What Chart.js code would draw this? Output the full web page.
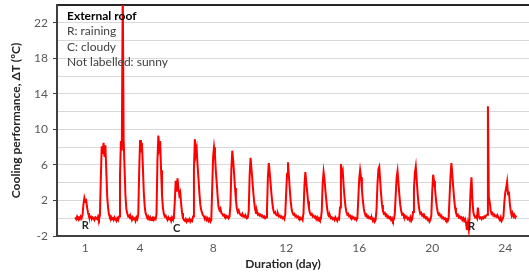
<!DOCTYPE html>
<html>
<head>
<meta charset="utf-8">
<script src="https://cdn.jsdelivr.net/npm/chart.js@4/dist/chart.umd.min.js"></script>
<style>
html, body { margin: 0; padding: 0; background: #fff; }
#wrap { width: 529px; height: 275px; }
</style>
</head>
<body>
<div id="wrap"><canvas id="grafic" width="529" height="275"></canvas></div>
<script>
// one row per day, readings every 0.05 day (row k starts at day k)
const coolingRows = [
	[null, null, null, null, null, null, null, null, null, 0.1, -0.1, 0.2, 0.0, 0.1, -0.1, 0.2, 0.0, 0.4, 1.6, 2.3],
	[1.9, 2.0, 1.2, 0.6, 0.2, 0.1, 0.2, -0.1, 0.1, 0.0, -0.2, 0.1, 0.0, -0.1, 0.2, -0.1, 0.3, 4.5, 8.1, 7.2],
	[8.5, 6.9, 8.2, 5.3, 2.4, 1.1, 0.4, 0.1, 0.2, -0.1, 0.0, -0.2, 0.1, -0.1, -0.3, 0.0, -0.2, 0.2, 4.8, 8.7],
	[7.6, 26, 8.9, 5.6, 2.5, 1.0, 0.5, 0.2, 0.3, 0.0, 0.1, -0.2, 0.1, -0.1, 0.0, -0.3, 0.1, -0.1, 0.4, 5.2],
	[8.8, 7.4, 8.5, 6.0, 3.1, 1.4, 0.6, 0.3, 0.0, 0.2, -0.1, 0.1, -0.2, 0.0, 0.1, -0.2, 0.0, -0.1, 0.5, 6.4],
	[9.3, 8.0, 8.7, 5.4, 2.6, 1.2, 0.5, 0.2, 0.3, 0.0, -0.2, 0.1, -0.1, 0.0, -0.3, 0.1, -0.1, 0.0, 1.8, 4.2],
	[3.0, 4.5, 3.4, 2.6, 2.9, 1.6, 0.6, 0.0, -0.2, -0.3, -0.1, -0.4, -0.2, -0.3, -0.1, -0.4, -0.2, -0.3, 0.2, 5.5],
	[8.9, 7.2, 7.8, 5.9, 4.4, 2.8, 1.5, 0.9, 0.6, 0.3, 0.2, -0.1, 0.1, -0.2, 0.0, -0.3, -0.1, -0.4, -0.2, 3.4],
	[6.9, 8.0, 7.1, 5.3, 3.9, 2.4, 1.2, 0.9, 1.1, 0.6, 0.5, 0.3, 0.4, 0.2, 0.3, 0.1, 0.2, 0.0, 0.2, 1.5],
	[5.6, 7.6, 6.5, 5.0, 3.4, 2.0, 1.1, 0.7, 0.9, 0.5, 0.4, 0.3, 0.5, 0.2, 0.3, 0.1, 0.2, 0.0, 0.1, 0.8],
	[4.8, 6.8, 5.6, 4.3, 2.9, 1.8, 1.0, 0.6, 0.8, 0.4, 0.5, 0.3, 0.4, 0.2, 0.3, 0.1, 0.2, 0.0, 0.1, 0.9],
	[4.6, 6.2, 5.1, 3.9, 2.6, 1.6, 0.9, 0.6, 0.7, 0.4, 0.3, 0.5, 0.2, 0.3, 0.1, 0.2, 0.0, 0.1, -0.1, 0.4],
	[2.8, 5.0, 6.3, 4.8, 3.2, 1.9, 1.0, 0.6, 0.4, 0.5, 0.2, 0.3, 0.1, 0.2, 0.0, 0.1, -0.1, 0.0, -0.2, 0.6],
	[3.6, 5.2, 4.1, 3.0, 1.9, 1.1, 0.6, 0.4, 0.5, 0.2, 0.3, 0.1, 0.2, -0.1, 0.1, -0.2, 0.0, -0.2, -0.1, 0.8],
	[3.9, 5.2, 4.4, 3.1, 2.0, 1.0, 0.4, 0.2, 0.3, 0.0, 0.1, -0.1, 0.0, -0.2, 0.1, -0.1, -0.3, 0.0, -0.1, 1.2],
	[6.1, 4.9, 5.3, 3.6, 2.3, 1.3, 0.7, 0.4, 0.5, 0.2, 0.3, 0.1, 0.2, 0.0, 0.1, -0.1, 0.0, -0.2, 0.0, 2.1],
	[4.4, 5.4, 4.6, 3.2, 2.0, 1.1, 0.6, 0.3, 0.4, 0.1, 0.2, 0.0, 0.1, -0.1, 0.0, -0.3, -0.1, -0.4, -0.2, 1.0],
	[3.8, 5.5, 5.8, 4.2, 2.7, 1.5, 0.8, 0.5, 0.6, 0.3, 0.4, 0.1, 0.2, 0.0, 0.1, -0.2, 0.0, -0.3, -0.1, 0.5],
	[2.6, 4.6, 5.3, 4.0, 2.6, 1.5, 0.8, 0.4, 0.5, 0.2, 0.3, 0.1, 0.2, -0.1, 0.0, -0.2, 0.1, -0.3, -0.1, 0.7],
	[3.4, 5.1, 5.8, 4.3, 2.8, 1.6, 0.9, 0.5, 0.6, 0.3, 0.4, 0.1, 0.2, 0.0, 0.1, -0.2, -0.1, -0.4, -0.2, 0.3],
	[3.0, 4.9, 4.2, 3.4, 2.2, 1.3, 0.7, 0.4, 0.5, 0.2, 0.3, 0.0, 0.1, -0.1, 0.0, -0.2, -0.1, -0.3, 0.0, 2.4],
	[4.7, 6.2, 4.9, 3.5, 2.2, 1.2, 0.6, 0.3, 0.4, 0.1, 0.2, 0.0, 0.1, -0.2, 0.0, -0.3, -0.1, -0.5, -1.3, -0.6],
	[-1.3, 0.4, 3.2, 4.6, 2.1, 0.7, 0.3, 0.1, 0.2, 0.0, 1.2, 0.2, 0.0, 0.1, -0.1, 0.1, 0.0, 0.2, 0.1, 0.3],
	[0.4, 12.6, 2.4, 1.8, 0.9, 0.5, 0.6, 0.3, 0.4, 0.2, 0.3, 0.1, 0.2, 0.0, -0.2, 0.1, -0.3, -0.1, 0.2, 1.8],
	[2.9, 3.4, 4.1, 2.7, 3.0, 1.6, 0.8, 0.3, 0.6, 0.2, 0.4, 0.1, 0.3]
];
const sampleStep = 0.05;

const xTicks = [1, 4, 8, 12, 16, 20, 24];
const yTicks = [-2, 2, 6, 10, 14, 18, 22];

const noteLines = ['External roof', 'R: raining', 'C: cloudy', 'Not labelled: sunny'];
const weatherDays = [1, 6, 22.15];
const weatherLabels = ['R', 'C', 'R'];
const weatherLabelY = [-0.8, -1.2, -0.9];

let puncte = [];
coolingRows.forEach((rand, zi) => {
	rand.forEach((val, j) => {
		if (val !== null) puncte.push({ x: zi + j * sampleStep, y: val });
	});
});

const textePlugin = {
	id: 'texte',
	afterDatasetsDraw(chart) {
		const ctx = chart.ctx;
		const area = chart.chartArea;
		const sx = chart.scales.x, sy = chart.scales.y;
		ctx.save();
		ctx.textBaseline = 'middle';
		ctx.textAlign = 'left';
		noteLines.forEach((linie, i) => {
			ctx.font = (i === 0 ? 'bold ' : '') + '12px Lato';
			ctx.fillStyle = i === 0 ? '#000' : '#404040';
			ctx.fillText(linie, area.left + 10, area.top + 11 + i * 15.5);
		});
		ctx.textAlign = 'center';
		ctx.font = 'bold 11px Lato';
		ctx.fillStyle = '#262626';
		weatherLabels.forEach((t, i) => {
			ctx.fillText(t, sx.getPixelForValue(weatherDays[i]), sy.getPixelForValue(weatherLabelY[i]));
		});
		ctx.font = 'bold 12px Lato';
		ctx.fillText('Duration (day)', 283, 264);
		ctx.restore();
	}
};

new Chart(document.getElementById('grafic'), {
	type: 'line',
	data: {
		datasets: [{
			label: 'External roof',
			data: puncte,
			borderColor: '#ff0000',
			borderWidth: 2,
			pointRadius: 0,
			tension: 0,
			fill: false
		}]
	},
	options: {
		responsive: false,
		animation: false,
		layout: { padding: { top: 5, right: 0, bottom: 0, left: 0 } },
		plugins: { legend: { display: false }, tooltip: { enabled: false } },
		scales: {
			x: {
				type: 'linear',
				min: -0.55,
				max: 25.3,
				afterBuildTicks: s => { s.ticks = xTicks.map(v => ({ value: v })); },
				afterFit: s => { s.height = 39; s.paddingLeft = 0; s.paddingRight = 0; },
				grid: { display: false, drawTicks: false },
				border: { display: true, color: '#404040', width: 2 },
				ticks: { color: '#595959', font: { family: 'Lato', size: 12 }, padding: 5, maxRotation: 0, autoSkip: false }
			},
			y: {
				min: -2,
				max: 24,
				afterFit: s => { s.width = 57; s.paddingTop = 0; s.paddingBottom = 0; },
				ticks: {
					stepSize: 2,
					autoSkip: false,
					color: '#595959',
					font: { family: 'Lato', size: 12 },
					padding: 5,
					callback: v => yTicks.includes(v) ? v : ''
				},
				grid: {
					color: c => (c.tick && c.tick.value === 24) ? '#262626' : '#d9d9d9',
					lineWidth: c => (c.tick && c.tick.value === 24) ? 2 : 1,
					tickColor: c => (c.tick && yTicks.includes(c.tick.value)) ? '#404040' : 'rgba(0,0,0,0)',
					tickLength: 4
				},
				border: { display: true, color: '#404040', width: 2 },
				title: {
					display: true,
					text: 'Cooling performance, ΔT (ºC)',
					color: '#262626',
					font: { family: 'Lato', size: 12, weight: 'bold' },
					padding: { top: 9, bottom: 0 }
				}
			}
		}
	},
	plugins: [textePlugin]
});
</script>
</body>
</html>
